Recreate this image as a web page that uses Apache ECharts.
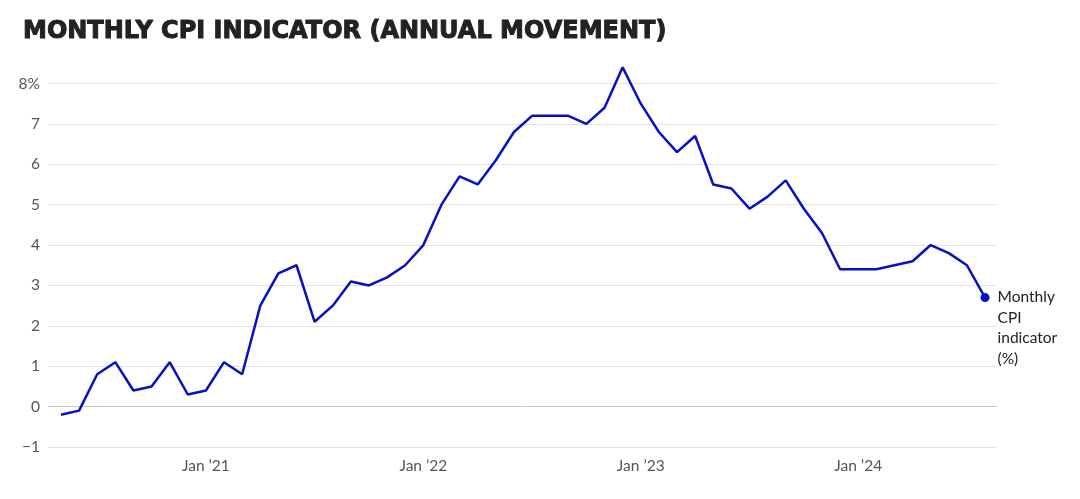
<!DOCTYPE html>
<html>
<head>
<meta charset="utf-8">
<script src="https://cdn.jsdelivr.net/npm/echarts@6/dist/echarts.min.js"></script>
<style>
  html, body { margin: 0; padding: 0; background: #fff; }
  #chart { width: 1080px; height: 499px; }
</style>
</head>
<body>
<div id="chart"></div>
<script>
const chartTitle = 'MONTHLY CPI INDICATOR (ANNUAL MOVEMENT)';
const seriesName = 'Monthly CPI indicator (%)';
const months = [
  '2020-05','2020-06','2020-07','2020-08','2020-09','2020-10','2020-11','2020-12',
  '2021-01','2021-02','2021-03','2021-04','2021-05','2021-06','2021-07','2021-08','2021-09','2021-10','2021-11','2021-12',
  '2022-01','2022-02','2022-03','2022-04','2022-05','2022-06','2022-07','2022-08','2022-09','2022-10','2022-11','2022-12',
  '2023-01','2023-02','2023-03','2023-04','2023-05','2023-06','2023-07','2023-08','2023-09','2023-10','2023-11','2023-12',
  '2024-01','2024-02','2024-03','2024-04','2024-05','2024-06','2024-07','2024-08'
];
const cpiValues = [
  -0.2, -0.1, 0.8, 1.1, 0.4, 0.5, 1.1, 0.3,
  0.4, 1.1, 0.8, 2.5, 3.3, 3.5, 2.1, 2.5, 3.1, 3.0, 3.2, 3.5,
  4.0, 5.0, 5.7, 5.5, 6.1, 6.8, 7.2, 7.2, 7.2, 7.0, 7.4, 8.4,
  7.5, 6.8, 6.3, 6.7, 5.5, 5.4, 4.9, 5.2, 5.6, 4.9, 4.3, 3.4,
  3.4, 3.4, 3.5, 3.6, 4.0, 3.8, 3.5, 2.7
];
const xTickLabels = { '2021-01': 'Jan \u201921', '2022-01': 'Jan \u201922', '2023-01': 'Jan \u201923', '2024-01': 'Jan \u201924' };
const yMin = -1, yMax = 8, yStep = 1;

const FONT = 'Lato, "Open Sans", sans-serif';
const LINE = '#0512c2';

const seriesData = cpiValues.map((v, i) => {
  if (i === cpiValues.length - 1) {
    return {
      value: v,
      symbol: 'circle',
      symbolSize: 9,
      itemStyle: { color: LINE },
      label: {
        show: true,
        position: [17, -6],
        align: 'left',
        verticalAlign: 'top',
        formatter: 'Monthly\nCPI\nindicator\n(%)',
        fontFamily: FONT,
        fontSize: 15.5,
        lineHeight: 20.5,
        color: '#222'
      }
    };
  }
  return { value: v, symbol: 'none' };
});

const gridTop = 83.5, gridBottom = 52;

const chart = echarts.init(document.getElementById('chart'), null, { renderer: 'canvas' });
chart.setOption({
  animation: false,
  backgroundColor: '#ffffff',
  title: {
    text: chartTitle,
    left: 18,
    top: 15,
    textStyle: {
      fontFamily: '"DejaVu Sans", sans-serif',
      fontWeight: 'bold',
      fontSize: 24,
      color: '#222222',
      textBorderColor: '#222222',
      textBorderWidth: 1
    }
  },
  grid: [
    { left: 48, right: 83, top: gridTop, bottom: gridBottom },
    { left: 51.9, right: 85.9, top: gridTop, bottom: gridBottom }
  ],
  xAxis: [
    { type: 'value', gridIndex: 0, show: false, min: 0, max: 1 },
    {
      type: 'category',
      gridIndex: 1,
      data: months,
      boundaryGap: true,
      axisLine: { show: false },
      axisTick: { show: false },
      splitLine: { show: false },
      axisLabel: {
        interval: (idx, val) => xTickLabels[val] !== undefined,
        formatter: (val) => xTickLabels[val] || '',
        fontFamily: FONT,
        fontSize: 15.5,
        color: '#555',
        margin: 11
      }
    }
  ],
  yAxis: [
    {
      type: 'value',
      gridIndex: 0,
      min: yMin,
      max: yMax,
      interval: yStep,
      axisLine: { show: false },
      axisTick: { show: false },
      axisLabel: {
        margin: 8,
        fontFamily: FONT,
        fontSize: 15.5,
        color: '#555',
        formatter: (v) => v === yMax ? v + '%' : (v < 0 ? '\u2212' + Math.abs(v) : String(v))
      },
      splitLine: {
        lineStyle: {
          width: 1,
          color: ['#e2e2e2', '#c9c9c9', '#e2e2e2', '#e2e2e2', '#e2e2e2', '#e2e2e2', '#e2e2e2', '#e2e2e2', '#e2e2e2', '#e2e2e2']
        }
      }
    },
    { type: 'value', gridIndex: 1, min: yMin, max: yMax, interval: yStep, show: false, splitLine: { show: false } }
  ],
  series: [
    {
      name: seriesName,
      type: 'line',
      xAxisIndex: 1,
      yAxisIndex: 1,
      data: seriesData,
      clip: false,
      showAllSymbol: true,
      lineStyle: { color: LINE, width: 2.5 },
      itemStyle: { color: LINE },
      emphasis: { disabled: true },
      z: 5
    }
  ]
});
</script>
</body>
</html>
